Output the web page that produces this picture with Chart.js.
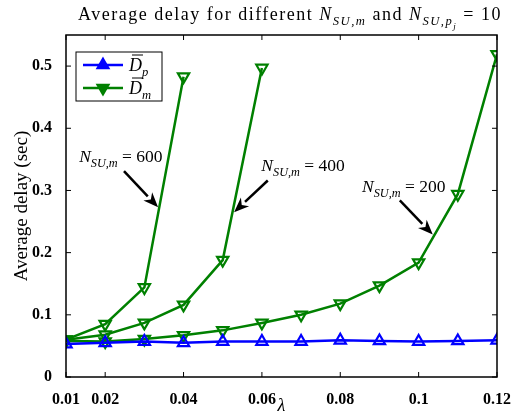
<!DOCTYPE html>
<html>
<head>
<meta charset="utf-8">
<script src="https://cdn.jsdelivr.net/npm/chart.js@4/dist/chart.umd.min.js"></script>
<style>
  html, body { margin: 0; padding: 0; background: #fff; }
  #wrap { width: 525px; height: 417px; }
</style>
</head>
<body>
<div id="wrap"><canvas id="chart"></canvas></div>
<script>
// ── Data ─────────────────────────────────────────────────────────────
const LAMBDA = [0.01, 0.02, 0.03, 0.04, 0.05, 0.06, 0.07, 0.08, 0.09, 0.10, 0.11, 0.12];
const DELAY_P = [0.053, 0.055, 0.057, 0.055, 0.057, 0.057, 0.057, 0.059, 0.058, 0.057, 0.058, 0.059];
const DELAY_M_200 = [0.058, 0.057, 0.061, 0.067, 0.075, 0.087, 0.100, 0.118, 0.147, 0.184, 0.294, 0.519];
const DELAY_M_400 = [0.060, 0.068, 0.087, 0.116, 0.188, 0.497];
const DELAY_M_600 = [0.060, 0.085, 0.144, 0.483];
const X_TICKS = [0.01, 0.02, 0.04, 0.06, 0.08, 0.1, 0.12];
const Y_TICKS = [0, 0.1, 0.2, 0.3, 0.4, 0.5];

// arrows + labels, in data units (lambda, delay)
const NOTES = [
  { n: '600', text: [0.0240, 0.353], tail: [0.0248, 0.331], tip: [0.0335, 0.273] },
  { n: '400', text: [0.0705, 0.339], tail: [0.0615, 0.316], tip: [0.0529, 0.265] },
  { n: '200', text: [0.0962, 0.306], tail: [0.0952, 0.284], tip: [0.1036, 0.229] },
];

const SERIF = '"Liberation Serif", "DejaVu Serif", serif';
const BLUE = '#0000ff', GREEN = '#008000';

const pts = (ys) => ys.map((y, i) => ({ x: LAMBDA[i], y }));

// ── little rich-text helper for subscripts ───────────────────────────
function runFont(r, base) {
  const size = r.sub === 2 ? base * 0.5 : r.sub === 1 ? base * 0.7 : base;
  return (r.i ? 'italic ' : '') + size + 'px ' + SERIF;
}
function measureRuns(ctx, runs, base) {
  let w = 0;
  runs.forEach(r => { ctx.font = runFont(r, base); w += ctx.measureText(r.t).width; });
  return w;
}
function drawRuns(ctx, runs, x, y, base) {
  ctx.textAlign = 'left';
  ctx.textBaseline = 'alphabetic';
  let cx = x;
  runs.forEach(r => {
    ctx.font = runFont(r, base);
    const dy = r.sub === 2 ? base * 0.5 : r.sub === 1 ? base * 0.28 : 0;
    ctx.fillText(r.t, cx, y + dy);
    cx += ctx.measureText(r.t).width;
  });
  return cx;
}

function arrow(ctx, x1, y1, x2, y2) {
  const ang = Math.atan2(y2 - y1, x2 - x1);
  const len = 15, half = 6;
  const bx = x2 - Math.cos(ang) * len, by = y2 - Math.sin(ang) * len;
  ctx.strokeStyle = '#000'; ctx.fillStyle = '#000'; ctx.lineWidth = 2.5;
  ctx.beginPath(); ctx.moveTo(x1, y1); ctx.lineTo(bx, by); ctx.stroke();
  ctx.beginPath();
  ctx.moveTo(x2, y2);
  ctx.lineTo(bx + Math.sin(ang) * half, by - Math.cos(ang) * half);
  ctx.lineTo(x2 - Math.cos(ang) * len * 0.7, y2 - Math.sin(ang) * len * 0.7);
  ctx.lineTo(bx - Math.sin(ang) * half, by + Math.cos(ang) * half);
  ctx.closePath(); ctx.fill();
}

// ── Matlab-ish frame, inward ticks, legend, notes, title ─────────────
const decor = {
  id: 'decor',
  afterDraw(chart) {
    const { ctx, chartArea: a, scales: { x, y } } = chart;
    ctx.save();
    // frame
    ctx.strokeStyle = '#000'; ctx.lineWidth = 1.5;
    ctx.strokeRect(a.left, a.top, a.right - a.left, a.bottom - a.top);
    ctx.lineWidth = 1;
    ctx.beginPath();
    X_TICKS.forEach(v => {
      const px = x.getPixelForValue(v);
      ctx.moveTo(px, a.bottom); ctx.lineTo(px, a.bottom - 5);
      ctx.moveTo(px, a.top); ctx.lineTo(px, a.top + 5);
    });
    Y_TICKS.forEach(v => {
      const py = y.getPixelForValue(v);
      ctx.moveTo(a.left, py); ctx.lineTo(a.left + 5, py);
      ctx.moveTo(a.right, py); ctx.lineTo(a.right - 5, py);
    });
    ctx.stroke();

    // legend
    const lx = a.left + 10, ly = a.top + 17;
    ctx.fillStyle = '#fff';
    ctx.fillRect(lx, ly, 86, 49);
    ctx.strokeStyle = '#000'; ctx.lineWidth = 1;
    ctx.strokeRect(lx, ly, 86, 49);
    const items = [
      { color: BLUE, rot: 0, sub: 'p', yy: ly + 13 },
      { color: GREEN, rot: 180, sub: 'm', yy: ly + 36 },
    ];
    items.forEach(it => {
      ctx.strokeStyle = it.color; ctx.lineWidth = 2.5;
      ctx.beginPath(); ctx.moveTo(lx + 7, it.yy); ctx.lineTo(lx + 47, it.yy); ctx.stroke();
      ctx.fillStyle = it.color;
      Chart.helpers.drawPoint(ctx, { pointStyle: 'triangle', radius: 6, rotation: it.rot, borderWidth: 2 }, lx + 27, it.yy);
      ctx.fillStyle = '#000';
      const tx = lx + 53;
      ctx.font = 'italic 18px ' + SERIF;
      const dw = ctx.measureText('D').width;
      drawRuns(ctx, [{ t: 'D', i: true }, { t: it.sub, i: true, sub: 1 }], tx, it.yy + 6, 18);
      ctx.strokeStyle = '#000'; ctx.lineWidth = 1;
      ctx.beginPath(); ctx.moveTo(tx + 3, it.yy - 10); ctx.lineTo(tx + dw + 1, it.yy - 10); ctx.stroke();
    });

    // annotations
    ctx.fillStyle = '#000';
    NOTES.forEach(n => {
      const runs = [{ t: 'N', i: true }, { t: 'SU,m', i: true, sub: 1 }, { t: ' = ' + n.n }];
      const w = measureRuns(ctx, runs, 17.5);
      const cx = x.getPixelForValue(n.text[0]), cy = y.getPixelForValue(n.text[1]);
      ctx.fillStyle = '#000';
      drawRuns(ctx, runs, cx - w / 2, cy + 5, 17.5);
      arrow(ctx, x.getPixelForValue(n.tail[0]), y.getPixelForValue(n.tail[1]),
                 x.getPixelForValue(n.tip[0]), y.getPixelForValue(n.tip[1]));
    });

    // title
    const title = [
      { t: 'Average delay for different ' }, { t: 'N', i: true }, { t: 'SU,m', i: true, sub: 1 },
      { t: ' and ' }, { t: 'N', i: true }, { t: 'SU,p', i: true, sub: 1 }, { t: 'j', i: true, sub: 2 },
      { t: ' = 10' },
    ];
    ctx.letterSpacing = '1.5px';
    const tw = measureRuns(ctx, title, 18);
    ctx.fillStyle = '#000';
    drawRuns(ctx, title, 290 - tw / 2, 20, 18);
    ctx.letterSpacing = '0px';
    ctx.restore();
  }
};

const line = (data, color, rot) => ({
  data, borderColor: color, backgroundColor: 'rgba(0,0,0,0)', borderWidth: 2.5,
  pointStyle: 'triangle', pointRotation: rot, pointRadius: 6.5, pointBorderWidth: 2.2,
  pointBorderColor: color, pointBackgroundColor: 'rgba(0,0,0,0)', tension: 0,
});

new Chart(document.getElementById('chart'), {
  type: 'line',
  data: {
    datasets: [
      line(pts(DELAY_P), BLUE, 0),
      line(pts(DELAY_M_200), GREEN, 180),
      line(pts(DELAY_M_400), GREEN, 180),
      line(pts(DELAY_M_600), GREEN, 180),
    ]
  },
  options: {
    responsive: true,
    maintainAspectRatio: false,
    animation: false,
    layout: { padding: { top: 35, right: 28, left: 0, bottom: 0 } },
    plugins: { legend: { display: false }, tooltip: { enabled: false } },
    scales: {
      x: {
        type: 'linear', min: 0.01, max: 0.12,
        afterBuildTicks: s => { s.ticks = X_TICKS.map(v => ({ value: v })); },
        afterFit: s => { s.height = 40; },
        grid: { display: false }, border: { display: false },
        ticks: { color: '#000', padding: 5, maxRotation: 0, autoSkip: false,
                 font: { family: SERIF, size: 16, weight: 'bold' }, callback: v => String(v) },
        title: { display: true, text: 'λ', color: '#000', padding: { bottom: 0 },
                 font: { family: SERIF, size: 18, style: 'italic' } },
      },
      y: {
        min: 0, max: 0.55,
        afterBuildTicks: s => { s.ticks = Y_TICKS.map(v => ({ value: v })); },
        afterFit: s => { s.width = 66; },
        grid: { display: false }, border: { display: false },
        ticks: { color: '#000', padding: 6, font: { family: SERIF, size: 16, weight: 'bold' },
                 callback: v => String(v) },
        title: { display: true, text: 'Average delay (sec)', color: '#000', padding: { top: 11 },
                 font: { family: SERIF, size: 19 } },
      }
    }
  },
  plugins: [decor]
});
</script>
</body>
</html>
